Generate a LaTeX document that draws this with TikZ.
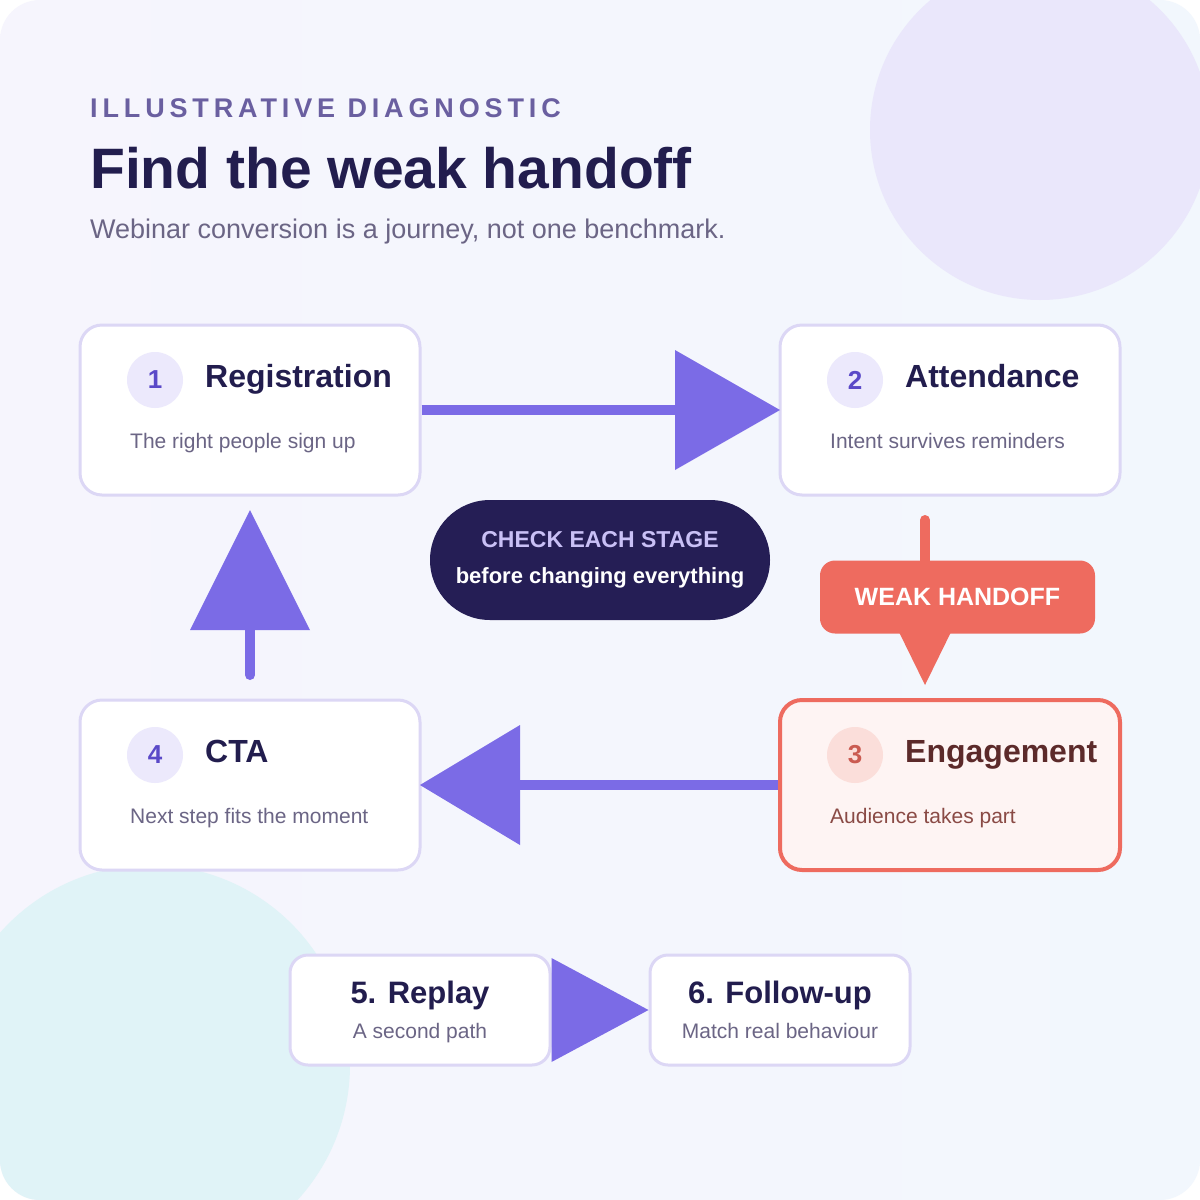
\documentclass[tikz,border=0pt]{standalone}
\usepackage{fontspec}
\setmainfont{Liberation Sans}
\usetikzlibrary{positioning}
\definecolor{bgA}{HTML}{F6F5FD}\definecolor{bgB}{HTML}{F2F7FD}
\definecolor{circA}{HTML}{EAE7FB}\definecolor{circB}{HTML}{E0F3F7}
\definecolor{kick}{HTML}{6A5FA0}\definecolor{ink}{HTML}{221D4E}
\definecolor{sub}{HTML}{6B6585}\definecolor{bord}{HTML}{DCD7F5}
\definecolor{arr}{HTML}{7B6BE6}\definecolor{red}{HTML}{EE6B5F}
\definecolor{pink}{HTML}{FEF4F3}\definecolor{numbg}{HTML}{ECE9FC}
\definecolor{numfg}{HTML}{5A49C8}\definecolor{dark}{HTML}{251E55}
\definecolor{lav}{HTML}{C9C0F6}\definecolor{brown}{HTML}{5C2A2A}
\definecolor{brownsub}{HTML}{8A4A45}\definecolor{rednum}{HTML}{FBDEDA}
\tikzset{
 card/.style={draw=bord,line width=3pt,fill=white,rounded corners=22pt},
 numc/.style={circle,fill=numbg,minimum size=56pt,inner sep=0pt,text=numfg,font=\fontsize{26}{26}\selectfont\bfseries},
 ttl/.style={anchor=base west,text=ink,font=\fontsize{32}{32}\selectfont\bfseries,inner sep=0pt},
 dsc/.style={anchor=base west,text=sub,font=\fontsize{21}{21}\selectfont,inner sep=0pt},
 head/.style={fill=arr,draw=none},
 shaft/.style={draw=arr,line width=10pt},
}
\begin{document}
\begin{tikzpicture}[x=1pt,y=-1pt]
\useasboundingbox (0,0) rectangle (1200,1200);
\fill[white] (0,0) rectangle (1200,1200);
\begin{scope}
\clip[rounded corners=40pt] (0,0) rectangle (1200,1200);
\shade[left color=bgA,right color=bgB] (0,0) rectangle (1200,1200);
\fill[circA] (1040,130) circle (170);
\fill[circB] (150,1065) circle (200);
\end{scope}
\node[anchor=base west,text=kick,inner sep=0pt,font=\fontsize{27}{27}\selectfont\bfseries\addfontfeature{LetterSpace=18}] (kick) at (90,117) {ILLUSTRATIVE DIAGNOSTIC};
\node[anchor=base west,text=ink,inner sep=0pt,font=\fontsize{57}{57}\selectfont\bfseries] (title) at (90,188) {Find the weak handoff};
\node[anchor=base west,text=sub,inner sep=0pt,font=\fontsize{27}{27}\selectfont] (subt) at (90,238) {Webinar conversion is a journey, not one benchmark.};
% cards
\node[card,minimum width=340pt,minimum height=170pt] (reg) at (250,410) {};
\node[card,minimum width=340pt,minimum height=170pt] (att) at (950,410) {};
\node[card,minimum width=340pt,minimum height=170pt] (cta) at (250,785) {};
\node[card,draw=red,line width=4pt,fill=pink,minimum width=340pt,minimum height=170pt] (eng) at (950,785) {};
\node[numc] (n1) at (155,380) {1};
\node[numc] (n2) at (855,380) {2};
\node[numc] (n4) at (155,755) {4};
\node[numc,fill=rednum,text=red!85!black] (n3) at (855,755) {3};
\node[ttl] (t1) at (205,387) {Registration};
\node[ttl] (t2) at (905,387) {Attendance};
\node[ttl] (t4) at (205,762) {CTA};
\node[ttl,text=brown] (t3) at (905,762) {Engagement};
\node[dsc] (d1) at (130,448) {The right people sign up};
\node[dsc] (d2) at (830,448) {Intent survives reminders};
\node[dsc] (d4) at (130,823) {Next step fits the moment};
\node[dsc,text=brownsub] (d3) at (830,823) {Audience takes part};
% arrows
\coordinate (h1) at (680,410);
\draw[shaft] (reg.east) -- (h1);
\fill[head] (675,350) -- (780,410) -- (675,470) -- cycle;
\coordinate (h2) at (520,785);
\draw[shaft] (eng.west) -- (h2);
\fill[head] (520,725) -- (420,785) -- (520,845) -- cycle;
\coordinate (h3) at (250,630);
\draw[shaft,line cap=round] (250,675) -- (h3);
\fill[head] (190,630) -- (250,510) -- (310,630) -- cycle;
% weak handoff callout
\node[fill=red,rounded corners=15pt,minimum width=275pt,minimum height=73pt,text=white,font=\fontsize{25}{25}\selectfont\bfseries] (weak) at (957.5,597) {WEAK HANDOFF};
\draw[draw=red,line width=10pt,line cap=round] (925,520) -- (weak.north -| 925,0);
\fill[red] (898,630) -- (952,630) -- (925,685) -- cycle;
% pill
\node[fill=dark,rounded corners=60pt,minimum width=340pt,minimum height=120pt,align=center] (pill) at (600,560) {};
\node[text=lav,font=\fontsize{23}{23}\selectfont\bfseries] (p1) at (600,540) {CHECK EACH STAGE};
\node[text=white,font=\fontsize{22}{22}\selectfont\bfseries] (p2) at (600,578) {before changing everything};
% bottom
\node[card,rounded corners=18pt,minimum width=260pt,minimum height=110pt] (rep) at (420,1010) {};
\node[card,rounded corners=18pt,minimum width=260pt,minimum height=110pt] (fol) at (780,1010) {};
\fill[head] (rep.east |- 0,958) -- (fol.west) -- (rep.east |- 0,1062) -- cycle;
\node[text=ink,font=\fontsize{31}{31}\selectfont\bfseries,anchor=base] (rt) at (420,1003) {5. Replay};
\node[text=sub,font=\fontsize{21}{21}\selectfont,anchor=base] (rd) at (420,1038) {A second path};
\node[text=ink,font=\fontsize{31}{31}\selectfont\bfseries,anchor=base] (ft) at (780,1003) {6. Follow-up};
\node[text=sub,font=\fontsize{21}{21}\selectfont,anchor=base] (fd) at (780,1038) {Match real behaviour};
\end{tikzpicture}
\end{document}
